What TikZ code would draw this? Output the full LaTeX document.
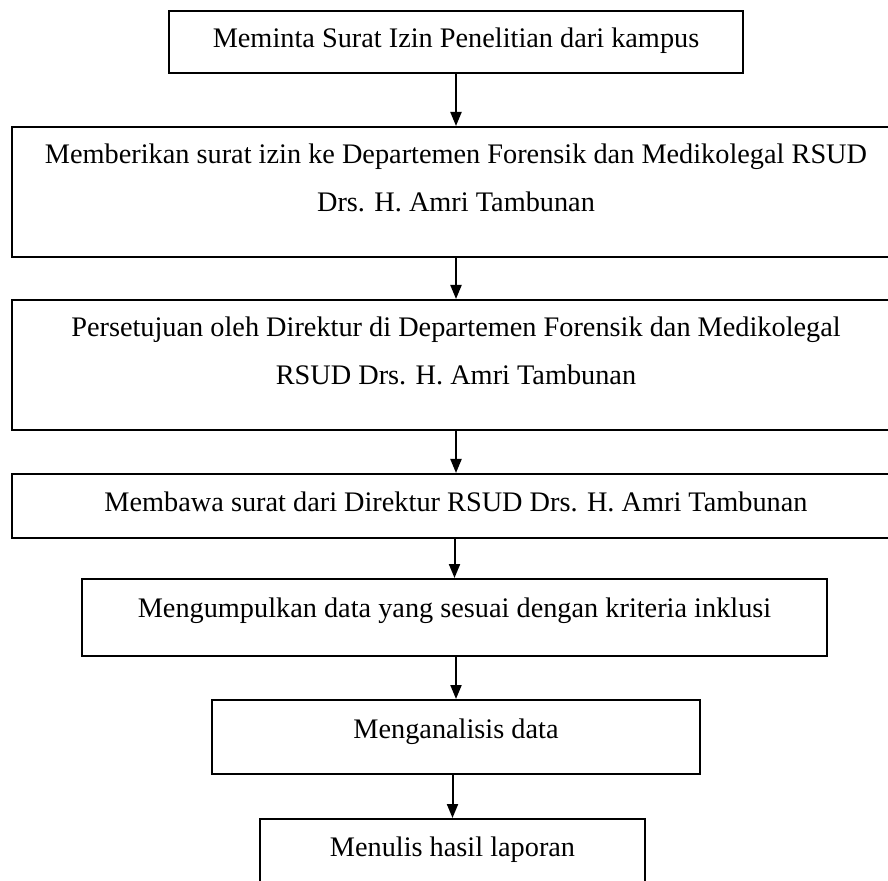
\documentclass[tikz,border=0pt]{standalone}
\usepackage{fontspec}
\setmainfont{Liberation Serif}
\usetikzlibrary{arrows.meta}
\tikzset{
  alur box/.style={draw=black, line width=1pt, inner sep=0pt, align=center, anchor=north,
                   font=\fontsize{14.15pt}{24pt}\selectfont},
  alur arr/.style={-{Triangle[length=7pt, width=5.5pt]}, line width=1pt, black},
}
\begin{document}
\begin{tikzpicture}[x=0.5pt, y=-0.5pt]
  \path[use as bounding box, clip] (0,0) rectangle (888,881);
  % the steps, top to bottom
  \node[alur box, minimum width=287pt, text height=18.5pt, text depth=12.5pt] (izin) at (456,10) {Meminta Surat Izin Penelitian dari kampus};
  \node[alur box, minimum width=444pt, text height=42.5pt, text depth=22.5pt] (beri) at (456,126) {Memberikan surat izin ke Departemen Forensik dan Medikolegal RSUD\\Drs. H. Amri Tambunan};
  \node[alur box, minimum width=444pt, text height=42.5pt, text depth=22.5pt] (setuju) at (456,299) {Persetujuan oleh Direktur di Departemen Forensik dan Medikolegal\\RSUD Drs. H. Amri Tambunan};
  \node[alur box, minimum width=444pt, text height=18.5pt, text depth=13.5pt] (bawa) at (456,473) {Membawa surat dari Direktur RSUD Drs. H. Amri Tambunan};
  \node[alur box, minimum width=372.5pt, text height=19pt, text depth=19.5pt] (kumpul) at (454.5,578) {Mengumpulkan data yang sesuai dengan kriteria inklusi};
  \node[alur box, minimum width=244pt, text height=19pt, text depth=18pt] (analisis) at (456,699) {Menganalisis data};
  \node[alur box, minimum width=192.5pt, text height=18.5pt, text depth=18.5pt] (tulis) at (452.5,818) {Menulis hasil laporan};
  % arrows between the steps
  \foreach \a/\b in {izin/beri, beri/setuju, setuju/bawa, bawa/kumpul, kumpul/analisis, analisis/tulis}
    \draw[alur arr] (\b.north |- \a.south) -- (\b.north);
\end{tikzpicture}
\end{document}
